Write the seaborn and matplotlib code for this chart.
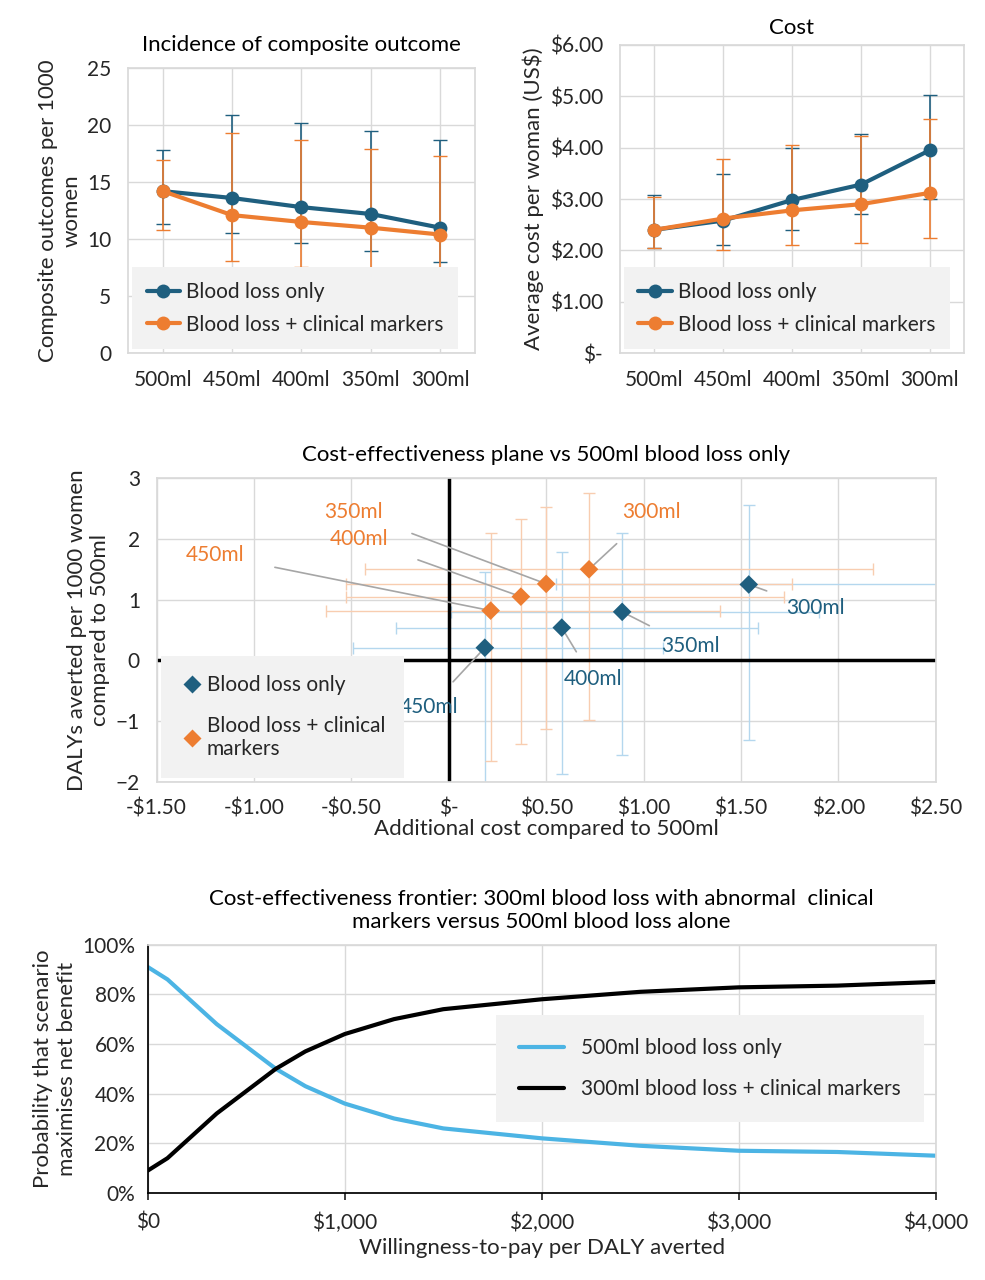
import numpy as np
import pandas as pd
import matplotlib
matplotlib.use("Agg")
import matplotlib.pyplot as plt
import seaborn as sns
from matplotlib.ticker import FuncFormatter

thresholds = ["500ml", "450ml", "400ml", "350ml", "300ml"]
BLUE = "#1f5f7f"
ORANGE = "#ed7d31"
LBLUE = "#4cb4e4"

# incidence per 1000 women
inc_bl = [14.2, 13.6, 12.8, 12.2, 11.0]
inc_bl_lo = [11.3, 10.5, 9.7, 9.0, 8.0]
inc_bl_hi = [17.8, 20.9, 20.2, 19.5, 18.7]
inc_cm = [14.2, 12.1, 11.5, 11.0, 10.4]
inc_cm_lo = [10.8, 8.1, 7.6, 7.1, 6.8]
inc_cm_hi = [16.9, 19.3, 18.7, 17.9, 17.3]

# cost per woman
cost_bl = [2.40, 2.58, 2.98, 3.28, 3.95]
cost_bl_lo = [2.05, 2.10, 2.40, 2.70, 3.00]
cost_bl_hi = [3.07, 3.48, 4.00, 4.27, 5.02]
cost_cm = [2.40, 2.62, 2.78, 2.90, 3.12]
cost_cm_lo = [2.05, 2.00, 2.10, 2.15, 2.25]
cost_cm_hi = [3.03, 3.78, 4.05, 4.22, 4.55]

# cost-effectiveness plane (450, 400, 350, 300)
ce_labels = ["450ml", "400ml", "350ml", "300ml"]
ce_bl_x = [0.185, 0.58, 0.89, 1.54]
ce_bl_y = [0.21, 0.54, 0.80, 1.25]
ce_bl_xlo = [-0.49, -0.27, 0.01, 0.55]
ce_bl_xhi = [1.10, 1.59, 1.90, 2.60]
ce_bl_ylo = [-2.1, -1.86, -1.56, -1.30]
ce_bl_yhi = [1.45, 1.79, 2.09, 2.55]
ce_cm_x = [0.215, 0.37, 0.50, 0.72]
ce_cm_y = [0.82, 1.05, 1.26, 1.50]
ce_cm_xlo = [-0.63, -0.53, -0.53, -0.43]
ce_cm_xhi = [1.39, 1.72, 1.76, 2.18]
ce_cm_ylo = [-1.65, -1.38, -1.12, -0.98]
ce_cm_yhi = [2.09, 2.33, 2.53, 2.75]
bl_text_pos = [(-0.10, -0.77), (0.74, -0.31), (1.24, 0.23), (1.88, 0.86)]
cm_text_pos = [(-1.20, 1.73), (-0.46, 2.00), (-0.49, 2.45), (1.04, 2.45)]

# acceptability
wtp = [0, 100, 350, 650, 800, 1000, 1250, 1500, 2000, 2500, 3000, 3500, 4000]
prob_500 = [91, 86, 68, 50, 43, 36, 30, 26, 22, 19, 17, 16.5, 15]
prob_300 = [9, 14, 32, 50, 57, 64, 70, 74, 78, 81, 82.8, 83.5, 85]

sns.set_theme(style="whitegrid")
plt.rcParams['font.family'] = ['Lato', 'DejaVu Sans']
plt.rcParams['font.size'] = 15
TXT = "#262626"
LAB = 16

fig = plt.figure(figsize=(9.85, 12.8), dpi=100)


def style(ax, pad=9):
    for s in ax.spines.values():
        s.set_color("#d9d9d9")
    ax.grid(True, color="#d9d9d9", lw=1)
    ax.tick_params(labelsize=15, colors=TXT, length=0, pad=pad)


def line_panel(ax, vals, lo, hi, vals2, lo2, hi2):
    x = np.arange(len(thresholds))
    df = pd.DataFrame({"x": np.r_[x, x], "y": np.r_[vals, vals2],
                       "s": ["Blood loss only"] * 5 + ["Blood loss + clinical markers"] * 5})
    ax.errorbar(x, vals, yerr=[np.subtract(vals, lo), np.subtract(hi, vals)], fmt="none",
                ecolor=BLUE, elinewidth=1.2, capsize=5)
    ax.errorbar(x, vals2, yerr=[np.subtract(vals2, lo2), np.subtract(hi2, vals2)], fmt="none",
                ecolor=ORANGE, elinewidth=1.2, capsize=5)
    sns.lineplot(data=df, x="x", y="y", hue="s", palette=[BLUE, ORANGE], marker="o",
                 markersize=10, markeredgewidth=0, lw=3, ax=ax)
    ax.set_xticks(x)
    ax.set_xticklabels(thresholds)
    ax.set_xlim(-0.5, 4.5)
    ax.set_xlabel("")
    ax.xaxis.grid(True)
    leg = ax.legend(loc="lower left", fontsize=15, frameon=True, facecolor="#f2f2f2",
                    edgecolor="none", framealpha=1, handlelength=1.6, handletextpad=0.3,
                    borderpad=0.4, labelspacing=0.6)
    leg.get_frame().set_boxstyle("square")
    style(ax, pad=12)


ax1 = fig.add_axes([0.130, 0.724, 0.352, 0.223])
line_panel(ax1, inc_bl, inc_bl_lo, inc_bl_hi, inc_cm, inc_cm_lo, inc_cm_hi)
ax1.set_ylim(0, 25)
ax1.set_yticks(range(0, 26, 5))
ax1.set_ylabel("Composite outcomes per 1000\nwomen", fontsize=LAB, color=TXT)
ax1.set_title("Incidence of composite outcome", fontsize=LAB, color="black", pad=12)

ax2 = fig.add_axes([0.629, 0.724, 0.350, 0.241])
line_panel(ax2, cost_bl, cost_bl_lo, cost_bl_hi, cost_cm, cost_cm_lo, cost_cm_hi)
ax2.set_ylim(0, 6)
ax2.set_yticks(range(0, 7))
ax2.yaxis.set_major_formatter(FuncFormatter(lambda v, p: "$-" if v == 0 else f"${v:.2f}"))
ax2.set_ylabel("Average cost per woman (US$)", fontsize=LAB, color=TXT)
ax2.set_title("Cost", fontsize=LAB, color="black", pad=8)

# cost-effectiveness plane
ax3 = fig.add_axes([0.159, 0.389, 0.791, 0.2375])
ax3.errorbar(ce_bl_x, ce_bl_y,
             xerr=[np.subtract(ce_bl_x, ce_bl_xlo), np.subtract(ce_bl_xhi, ce_bl_x)],
             yerr=[np.subtract(ce_bl_y, ce_bl_ylo), np.subtract(ce_bl_yhi, ce_bl_y)],
             fmt="none", ecolor="#b4d7ee", elinewidth=1, capsize=4)
ax3.errorbar(ce_cm_x, ce_cm_y,
             xerr=[np.subtract(ce_cm_x, ce_cm_xlo), np.subtract(ce_cm_xhi, ce_cm_x)],
             yerr=[np.subtract(ce_cm_y, ce_cm_ylo), np.subtract(ce_cm_yhi, ce_cm_y)],
             fmt="none", ecolor="#f8cdb0", elinewidth=1, capsize=4)
ax3.axhline(0, color="black", lw=2.5)
ax3.axvline(0, color="black", lw=2.5)
ce_df = pd.DataFrame({"x": ce_bl_x + ce_cm_x, "y": ce_bl_y + ce_cm_y,
                      "s": ["Blood loss only"] * 4 + ["Blood loss + clinical\nmarkers"] * 4})
sns.scatterplot(data=ce_df, x="x", y="y", hue="s", palette=[BLUE, ORANGE], marker="D",
                s=90, edgecolor="none", ax=ax3, zorder=5)
for lab, (px, py), (tx, ty) in zip(ce_labels, zip(ce_bl_x, ce_bl_y), bl_text_pos):
    ax3.annotate(lab, (px, py), (tx, ty), fontsize=15, color=BLUE, ha="center", va="center",
                 arrowprops=dict(arrowstyle="-", color="#a6a6a6", lw=1.2, shrinkA=12, shrinkB=4))
for lab, (px, py), (tx, ty) in zip(ce_labels, zip(ce_cm_x, ce_cm_y), cm_text_pos):
    ax3.annotate(lab, (px, py), (tx, ty), fontsize=15, color=ORANGE, ha="center", va="center",
                 arrowprops=dict(arrowstyle="-", color="#a6a6a6", lw=1.2, shrinkA=20, shrinkB=4))
ax3.set_xlim(-1.5, 2.5)
ax3.set_ylim(-2, 3)
ax3.set_xticks(np.arange(-1.5, 2.51, 0.5))
ax3.xaxis.set_major_formatter(FuncFormatter(
    lambda v, p: "$-" if abs(v) < 1e-9 else (f"-${-v:.2f}" if v < 0 else f"${v:.2f}")))
ax3.set_xlabel("Additional cost compared to 500ml", fontsize=LAB, color=TXT, labelpad=0)
ax3.set_ylabel("DALYs averted per 1000 women\ncompared to 500ml", fontsize=LAB, color=TXT)
ax3.set_title("Cost-effectiveness plane vs 500ml blood loss only", fontsize=LAB, color="black", pad=12)
leg = ax3.legend(loc="lower left", fontsize=15, frameon=True, facecolor="#f2f2f2", edgecolor="none",
                 framealpha=1, handletextpad=0.1, handlelength=1.2, labelspacing=1.0, borderpad=0.6)
leg.get_frame().set_boxstyle("square")
style(ax3, pad=12)

# acceptability curve
ax4 = fig.add_axes([0.150, 0.068, 0.800, 0.194])
acc_df = pd.DataFrame({"x": wtp * 2, "y": prob_500 + prob_300,
                       "s": ["500ml blood loss only"] * len(wtp) +
                            ["300ml blood loss + clinical markers"] * len(wtp)})
sns.lineplot(data=acc_df, x="x", y="y", hue="s", palette=[LBLUE, "black"], lw=3, ax=ax4)
ax4.set_xlim(0, 4000)
ax4.set_ylim(0, 100)
ax4.set_yticks(range(0, 101, 20))
ax4.yaxis.set_major_formatter(FuncFormatter(lambda v, p: f"{v:.0f}%"))
ax4.set_xticks(range(0, 4001, 1000))
ax4.xaxis.set_major_formatter(FuncFormatter(lambda v, p: f"${v:,.0f}"))
ax4.xaxis.grid(False)
ax4.set_xlabel("Willingness-to-pay per DALY averted", fontsize=LAB, color=TXT, labelpad=4)
ax4.set_ylabel("Probability that scenario\nmaximises net benefit", fontsize=LAB, color=TXT)
ax4.set_title("Cost-effectiveness frontier: 300ml blood loss with abnormal  clinical\nmarkers versus 500ml blood loss alone",
              fontsize=LAB, color="black", pad=12)
leg = ax4.legend(loc="center right", bbox_to_anchor=(0.99, 0.5), fontsize=15, frameon=True,
                 facecolor="#f2f2f2", edgecolor="none", framealpha=1, borderpad=0.8, labelspacing=1.0,
                 handlelength=2.2)
leg.get_frame().set_boxstyle("square")
style(ax4, pad=9)
ax4.spines["left"].set_color("black")
ax4.spines["bottom"].set_color("black")
ax4.tick_params(axis="x", length=5, colors=TXT, direction="out")
ax4.xaxis.set_ticks_position("bottom")

fig.savefig("out.png", dpi=100)
